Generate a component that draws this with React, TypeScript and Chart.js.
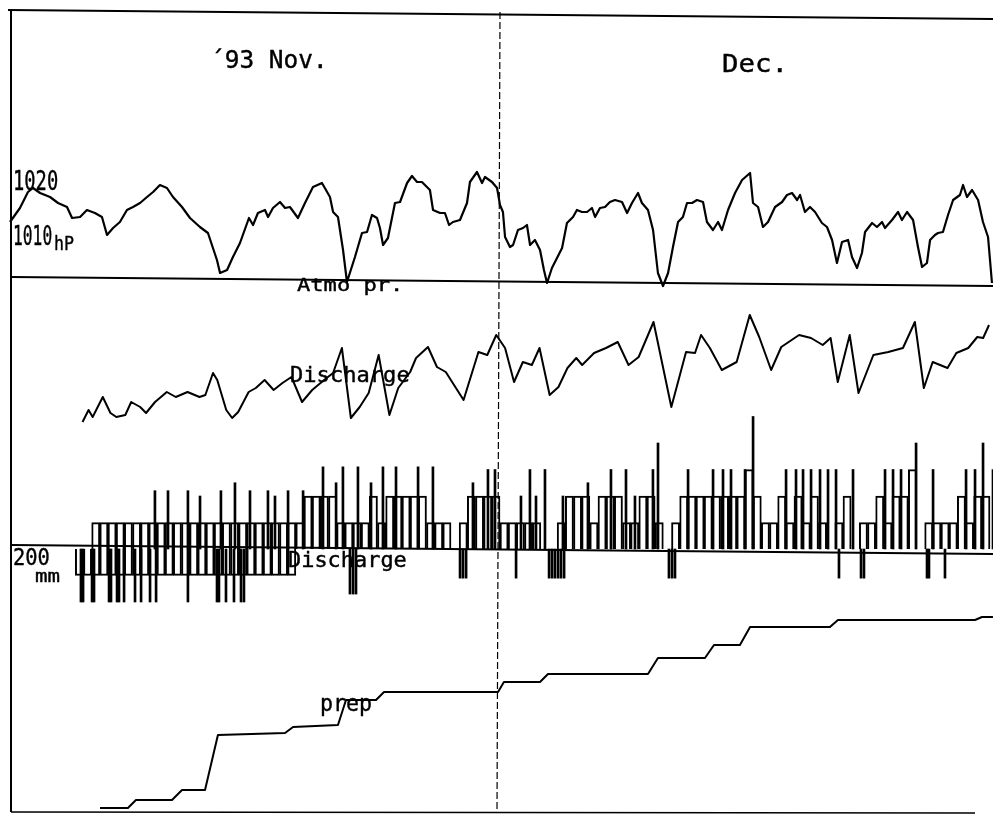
import React, { useEffect, useRef } from "react";
import { Chart, registerables } from "chart.js";
Chart.register(...registerables);

const W = 993;
const H = 818;

// ---- Atmospheric pressure (hPa), time in days from 1 Nov 1993 ----
const pressureDays = [
  0.0, 0.61, 1.1, 1.41, 1.84, 2.45, 2.94, 3.49, 3.8, 4.29, 4.71, 5.2, 5.63, 5.94, 6.31, 6.73,
  7.16, 7.53, 7.96, 8.39, 8.76, 9.18, 9.61, 9.98, 10.53, 11.02, 11.63, 12.12, 12.67, 12.86, 13.29,
  13.65, 14.08, 14.63, 14.88, 15.18, 15.61, 15.8, 16.1, 16.53, 16.84, 17.14, 17.63, 18.06, 18.55,
  19.1, 19.59, 19.78, 20.08, 20.39, 20.63, 21.12, 21.55, 21.86, 22.16, 22.47, 22.65, 22.84, 23.14,
  23.57, 23.88, 24.31, 24.61, 24.92, 25.22, 25.71, 25.9, 26.33, 26.63, 26.88, 27.12, 27.55, 27.98,
  28.16, 28.59, 28.9, 29.08, 29.51, 29.82, 30.0, 30.18, 30.31, 30.61, 30.8, 31.1, 31.41, 31.65,
  31.84, 32.14, 32.45, 32.69, 32.88, 33.18, 33.49, 33.8, 34.1, 34.47, 34.71, 35.02, 35.33, 35.63,
  35.82, 36.12, 36.43, 36.73, 37.04, 37.47, 37.78, 38.08, 38.45, 38.69, 39.06, 39.37, 39.67, 39.98,
  40.29, 40.59, 40.9, 41.2, 41.45, 41.76, 42.06, 42.43, 42.67, 43.04, 43.35, 43.59, 43.96, 44.39,
  44.82, 45.31, 45.49, 45.8, 46.1, 46.41, 46.84, 47.27, 47.57, 47.88, 48.19, 48.37, 48.67, 48.98,
  49.29, 49.71, 50.02, 50.33, 50.63, 50.94, 51.31, 51.55, 51.86, 52.16, 52.35, 52.78, 53.08, 53.39,
  53.57, 54.0, 54.37, 54.61, 54.92, 55.29, 55.59, 55.84, 56.14, 56.33, 56.63, 56.82, 57.12, 57.43,
  57.74, 58.16, 58.35, 58.59, 58.9, 59.27, 59.57, 59.88, 60.12,
];
const pressureHpa = [
  1011.2, 1014.0, 1017.2, 1018.0, 1017.0, 1016.2, 1015.0, 1014.2, 1012.0, 1012.2, 1013.6, 1013.0, 1012.2, 1008.6, 1010.0, 1011.2,
  1013.6, 1014.2, 1015.0, 1016.2, 1017.2, 1018.6, 1018.0, 1016.2, 1014.2, 1012.0, 1010.2, 1009.0, 1003.6, 1001.0, 1001.6,
  1004.2, 1007.0, 1012.0, 1010.6, 1013.0, 1013.6, 1012.2, 1014.0, 1015.2, 1014.0, 1014.2, 1012.0, 1015.0, 1018.2,
  1019.0, 1016.2, 1013.2, 1012.2, 1005.6, 999.2, 1004.2, 1009.0, 1009.2, 1012.6, 1012.0, 1010.0, 1006.6, 1008.0,
  1015.0, 1015.2, 1019.0, 1020.4, 1019.2, 1019.2, 1017.6, 1013.6, 1013.0, 1013.0, 1010.6, 1011.2, 1011.6, 1015.0,
  1019.2, 1021.2, 1019.0, 1020.2, 1019.2, 1018.0, 1014.6, 1013.2, 1008.2, 1006.2, 1006.6, 1009.6, 1010.0, 1010.6,
  1006.6, 1007.6, 1005.6, 1001.6, 999.0, 1002.0, 1004.0, 1006.0, 1011.0, 1012.2, 1013.6, 1013.2, 1013.2, 1014.0,
  1012.2, 1014.0, 1014.2, 1015.2, 1015.6, 1015.2, 1013.0, 1015.0, 1017.0, 1015.0, 1013.6, 1009.6, 1001.0, 998.4,
  1001.0, 1006.2, 1011.2, 1012.2, 1015.0, 1015.0, 1015.6, 1015.2, 1011.2, 1009.6, 1011.2, 1009.6, 1013.6, 1017.0,
  1019.6, 1021.0, 1015.0, 1014.2, 1010.2, 1011.2, 1014.2, 1015.2, 1016.6, 1017.0, 1015.6, 1016.6, 1013.2, 1014.2,
  1013.2, 1011.0, 1010.2, 1007.6, 1003.0, 1007.2, 1007.6, 1004.2, 1002.0, 1005.0, 1009.2, 1011.0, 1010.2, 1011.2,
  1010.0, 1011.6, 1013.2, 1011.6, 1013.2, 1011.6, 1006.2, 1002.2, 1003.0, 1007.6, 1008.6, 1009.0, 1009.2, 1012.6,
  1015.6, 1016.6, 1018.6, 1016.2, 1017.6, 1015.6, 1011.2, 1008.2, 999.0,
];

// ---- Discharge curve ----
const dischargeDays = [
  4.44, 4.81, 5.06, 5.68, 6.15, 6.51, 7.06, 7.42, 7.97, 8.33,
  8.88, 9.6, 10.15, 10.87, 11.6, 11.96, 12.43, 12.69, 13.24, 13.6,
  13.97, 14.61, 15.05, 15.59, 16.14, 16.68, 17.23, 17.88, 18.5, 19.23,
  19.78, 20.32, 20.87, 21.41, 21.96, 22.57, 23.23, 23.77, 24.5, 24.86,
  25.59, 26.14, 26.68, 27.77, 28.68, 29.22, 29.77, 30.31, 30.86, 31.4,
  31.95, 32.42, 33.04, 33.58, 34.13, 34.67, 35.03, 35.76, 36.49, 37.21,
  37.87, 38.49, 39.4, 40.49, 41.39, 41.94, 42.31, 42.85, 43.58, 44.49,
  45.29, 45.87, 46.6, 47.22, 48.31, 49.04, 49.76, 50.24, 50.68, 51.41,
  51.95, 52.86, 53.77, 54.67, 55.4, 55.95, 56.49, 57.4, 57.94, 58.67,
  59.22, 59.58, 59.94,
];
const dischargeValues = [
  2.8, 4.0, 3.3, 5.3, 3.7, 3.3, 3.5, 4.8, 4.3, 3.7,
  4.8, 5.8, 5.3, 5.8, 5.3, 5.5, 7.7, 7.0, 4.0, 3.2,
  3.8, 5.8, 6.2, 7.0, 6.0, 6.7, 7.3, 4.8, 6.0, 7.0,
  7.7, 10.2, 3.2, 4.3, 5.7, 9.5, 3.5, 6.2, 7.8, 9.2,
  10.3, 8.3, 7.8, 5.0, 9.8, 9.5, 11.5, 10.2, 6.8, 8.8,
  8.5, 10.2, 5.5, 6.3, 8.2, 9.2, 8.5, 9.7, 10.2, 10.8,
  8.5, 9.3, 12.8, 4.3, 9.8, 9.7, 11.5, 10.2, 8.0, 8.8,
  13.5, 11.3, 8.0, 10.3, 11.5, 11.2, 10.5, 11.2, 6.8, 11.5,
  5.7, 9.5, 9.8, 10.2, 12.8, 6.2, 8.8, 8.2, 9.7, 10.2,
  11.3, 11.2, 12.5,
];

// ---- Discharge level strip (half-day steps from day 4) ----
const barDays = Array.from({ length: 113 }, (_, i) => 4 + i * 0.5);
const upperLevels = [
  0, 0, 0, 1, 1, 1, 1, 1,
  1, 1, 1, 1, 1, 1, 1, 1,
  1, 1, 1, 1, 1, 1, 1, 1,
  1, 1, 1, 1, 1, 2, 2, 2,
  2, 1, 1, 1, 1, 2, 1, 2,
  2, 2, 2, 2, 1, 1, 1, 0,
  1, 2, 2, 2, 2, 1, 1, 1,
  1, 1, 0, 0, 1, 2, 2, 2,
  1, 2, 2, 2, 1, 1, 2, 2,
  1, 0, 1, 2, 2, 2, 2, 2,
  2, 2, 2, 3, 2, 1, 1, 2,
  1, 2, 1, 2, 1, 0, 1, 2,
  0, 1, 1, 2, 1, 2, 2, 3,
  0, 1, 1, 1, 1, 2, 1, 2,
  2,
];
const lowerLevels = [
  -1, -1, -1, -1, -1, -1, -1, -1,
  -1, -1, -1, -1, -1, -1, -1, -1,
  -1, -1, -1, -1, -1, -1, -1, -1,
  -1, -1, -1, 0, 0, 0, 0, 0,
];
const spikeUpDays = [
  8.69, 9.49, 10.71, 11.45, 12.73, 13.59, 14.51, 15.61, 16.04, 16.84,
  17.76, 18.98, 19.78, 20.2, 21.12, 21.92, 22.65, 23.45, 24.8, 25.71,
  28.16, 29.08, 29.51,
  31.1, 31.65, 32.02, 32.57, 33.67, 35.2, 36.61, 37.53, 38.08, 39.18,
  39.49, 41.33, 42.86, 43.47, 43.96, 44.82, 45.31, 47.33, 47.94, 48.37,
  48.86, 49.41, 49.9, 50.39, 51.43, 53.39, 53.88, 54.37, 55.29, 56.33,
  58.35, 58.9, 59.39, 60.0,
];
const spikeUpLevels = [
  2.2, 2.2, 2.2, 2, 2.2, 2.5, 2.2, 2.2, 2, 2.2,
  2.2, 3.1, 2.5, 3.1, 3.1, 2.5, 3.1, 3.1, 3.1, 3.1,
  2.5, 3, 3,
  2, 3, 2, 3, 2, 2.5, 3, 3, 2, 3,
  4, 3, 3, 3, 3, 3, 5, 3, 3, 3,
  3, 3, 3, 3, 3, 3, 3, 3, 4, 3,
  3, 3, 4, 3,
];
const spikeDownDays = [
  4.16, 4.29, 4.84, 4.96, 5.88, 6.0, 6.37, 6.49, 6.8, 7.47,
  7.84, 8.39, 8.76, 10.71, 12.49, 12.61, 13.04, 13.53, 13.96, 14.14,
  20.63, 20.82, 21.0,
  27.37, 27.55, 27.74, 30.8, 32.82, 33.0, 33.18, 33.37, 33.55, 33.74,
  40.16, 40.35, 40.53, 50.57, 51.92, 52.1, 55.96, 56.08, 57.06,
];
const spikeDownLevels = [
  -2, -2, -2, -2, -2, -2, -2, -2, -2, -2,
  -2, -2, -2, -2, -2, -2, -2, -2, -2, -2,
  -1.7, -1.7, -1.7,
  -1.1, -1.1, -1.1, -1.1, -1.1, -1.1, -1.1, -1.1, -1.1, -1.1,
  -1.1, -1.1, -1.1, -1.1, -1.1, -1.1, -1.1, -1.1, -1.1,
];

// ---- Cumulative precipitation (mm) ----
const prepDays = [
  5.51, 7.22, 7.71, 9.92, 10.53, 11.94, 12.73, 16.84, 17.33, 20.08, 20.57, 22.41, 22.9, 29.88,
  30.24, 32.45, 32.94, 39.06, 39.67, 42.55, 43.1, 44.69, 45.31, 50.2, 50.69, 59.08, 59.51, 60.18,
];
const prepMm = [
  2, 2, 10, 10, 20, 20, 75, 77, 83, 85, 110, 110, 118, 118,
  128, 128, 136, 136, 152, 152, 165, 165, 183, 183, 190, 190, 193, 193,
];

// axis range so that value v1 sits at pixel p1 and v2 at pixel p2 (vertical)
function yRange(v1: number, p1: number, v2: number, p2: number) {
  const k = (p2 - p1) / (v1 - v2);
  const max = v1 + p1 / k;
  return { min: max - H / k, max };
}
function xRange(v1: number, p1: number, v2: number, p2: number) {
  const k = (p2 - p1) / (v2 - v1);
  const min = v1 - p1 / k;
  return { min, max: min + W / k };
}
const XR = xRange(0, 10, 30, 500);
const DAY_PX = 490 / 30;

const pairs = (xs: number[], ys: number[]) =>
  xs.map((x, i) => ({ x, y: ys[i] })).filter((p) => p.y !== null && p.y !== undefined && p.y !== 0);

function label(ctx: CanvasRenderingContext2D, text: string, x: number, base: number, font: number, adv: number) {
  ctx.font = `${font}px "DejaVu Sans Mono"`;
  const nat = ctx.measureText("M").width;
  ctx.save();
  ctx.translate(x, base);
  ctx.scale(adv / nat, 1);
  ctx.fillStyle = "#000";
  ctx.strokeStyle = "#000";
  ctx.lineWidth = 0.4;
  ctx.textBaseline = "alphabetic";
  ctx.fillText(text, 0, 0);
  ctx.strokeText(text, 0, 0);
  ctx.restore();
}

const decor = {
  id: "decor",
  beforeDraw(chart: any) {
    const c = chart.ctx;
    c.save();
    c.fillStyle = "#fff";
    c.fillRect(0, 0, W, H);
    c.restore();
  },
  afterDraw(chart: any) {
    const c: CanvasRenderingContext2D = chart.ctx;
    c.save();
    c.strokeStyle = "#000";
    const seg = (x1: number, y1: number, x2: number, y2: number, w: number) => {
      c.lineWidth = w;
      c.beginPath();
      c.moveTo(x1, y1);
      c.lineTo(x2, y2);
      c.stroke();
    };
    seg(8, 10, 993, 19, 2);
    seg(11, 10, 11, 812, 2);
    seg(11, 812, 975, 813, 1.5);
    seg(11, 277, 993, 286, 2);
    seg(11, 545, 993, 554, 2);
    c.setLineDash([7, 3]);
    seg(500, 12, 497, 812, 1.2);
    c.setLineDash([]);
    label(c, "\u00b493 Nov.", 210, 68, 25, 14.7);
    label(c, "Dec.", 722, 72, 25, 16.5);
    label(c, "1020", 13, 190, 27, 11.3);
    label(c, "1010", 13, 245, 27, 9.8);
    label(c, "hP", 54, 250, 19, 10);
    label(c, "Atmo pr.", 297, 291, 18, 13.3);
    label(c, "Discharge", 290, 382, 21, 13.3);
    label(c, "Discharge", 288, 567, 21, 13.2);
    label(c, "200", 13, 565, 23, 12.3);
    label(c, "mm", 35, 582, 17, 12.5);
    label(c, "prep", 320, 711, 23, 13);
    c.restore();
  },
};

export default function App() {
  const ref = useRef<HTMLCanvasElement>(null);
  useEffect(() => {
    if (!ref.current) return;
    const hidden = (r: any) => ({ type: "linear", display: false, offset: false, ...r });
    const line = (data: any, yAxisID: string, w: number) => ({
      type: "line",
      data,
      xAxisID: "x",
      yAxisID,
      borderColor: "#000",
      borderWidth: w,
      pointRadius: 0,
      fill: false,
      tension: 0,
      borderJoinStyle: "round",
    });
    const chart = new Chart(ref.current, {
      type: "line",
      data: {
        datasets: [
          line(pairs(pressureDays, pressureHpa), "yP", 2.2),
          line(pairs(dischargeDays, dischargeValues), "yQ", 2),
          line(pairs(prepDays, prepMm), "yM", 2),
          {
            type: "bar",
            data: pairs(barDays, upperLevels),
            xAxisID: "xU",
            yAxisID: "yB",
            barThickness: DAY_PX * 0.5,
            backgroundColor: "rgba(255,255,255,0)",
            borderColor: "#000",
            borderWidth: 1.3,
            borderSkipped: "start",
          },
          {
            type: "bar",
            data: pairs(barDays, lowerLevels),
            xAxisID: "xL",
            yAxisID: "yB",
            barThickness: DAY_PX * 0.5,
            backgroundColor: "rgba(255,255,255,0)",
            borderColor: "#000",
            borderWidth: 1.3,
            borderSkipped: "start",
          },
          {
            type: "bar",
            data: pairs(spikeUpDays, spikeUpLevels).concat(pairs(spikeDownDays, spikeDownLevels)),
            xAxisID: "xS",
            yAxisID: "yB",
            barThickness: 2,
            backgroundColor: "#000",
            borderWidth: 0,
          },
        ] as any,
      },
      options: {
        responsive: false,
        maintainAspectRatio: false,
        animation: false,
        events: [],
        layout: { padding: 0 },
        plugins: { legend: { display: false }, tooltip: { enabled: false } },
        scales: {
          x: hidden(XR),
          xU: hidden(XR),
          xL: hidden(XR),
          xS: hidden(XR),
          yP: hidden(yRange(1020, 178, 1010, 228)),
          yQ: hidden(yRange(10, 350, 0, 450)),
          yB: hidden({ ...yRange(1, 522.5, 0, 549), stacked: false }),
          yM: hidden(yRange(100, 710, 0, 810)),
        } as any,
      },
      plugins: [decor],
    });
    return () => chart.destroy();
  }, []);
  return (
    <div style={{ position: "fixed", left: 0, top: 0, width: W, height: H, background: "#fff" }}>
      <canvas ref={ref} width={W} height={H} style={{ display: "block", width: W, height: H }} />
    </div>
  );
}
